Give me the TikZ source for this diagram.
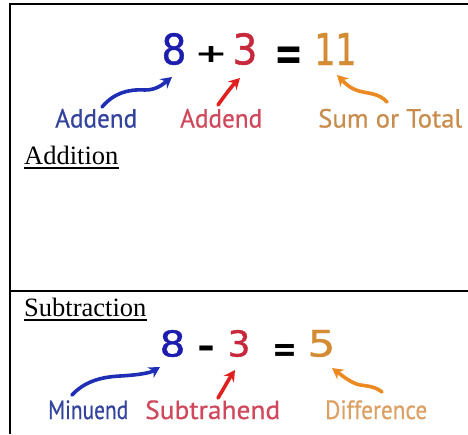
\documentclass[tikz,border=0pt]{standalone}
\usepackage{fontspec}
\usepackage{graphicx}
\setmainfont{Liberation Serif}
\newfontfamily\labfont{PT Sans}[FakeBold=0.6]
\newfontfamily\digfont{DejaVu Sans}[FakeBold=1]
\newfontfamily\opfont{DejaVu Sans Bold}
\usetikzlibrary{arrows.meta}
\definecolor{bdig}{HTML}{1C1CAE}
\definecolor{rdig}{HTML}{C8283C}
\definecolor{odig}{HTML}{D48C34}
\definecolor{barr}{HTML}{1F2FB5}
\definecolor{rarr}{HTML}{E0201E}
\definecolor{oarr}{HTML}{EC8A22}
\definecolor{blab}{HTML}{34449C}
\definecolor{rlab}{HTML}{D0485C}
\definecolor{olab}{HTML}{C98C4C}
\definecolor{olab2}{HTML}{DCA064}
\newcommand{\fitto}[3]{\resizebox*{#1}{#2}{#3}}
\tikzset{
  frame/.style={line width=2.4pt, line join=miter},
  heading/.style={inner sep=0pt, font=\fontsize{26.5}{30}\selectfont},
  uline/.style={line width=1.2pt},
  glyph/.style={inner sep=0pt},
  lab/.style={inner sep=0pt, anchor=base west, font=\labfont},
  arr/.style={line width=3.6pt, line cap=round, -{Stealth[length=11pt,width=12pt]}},
}
\begin{document}
\begin{tikzpicture}[x=1pt,y=-1pt]
\useasboundingbox (0,0) rectangle (468,434);
% frame
\draw[frame] (10,434) -- (10,4) -- (468,4);
\draw[frame] (10,291) -- (468,291);
% headings
\node[heading, anchor=base west] (addh) at (24,164) {Addition};
\draw[uline] ([yshift=-4pt]addh.base west) -- ([yshift=-4pt]addh.base east);
\node[heading, anchor=base west] (subh) at (24,316) {Subtraction};
\draw[uline] ([yshift=-4pt]subh.base west) -- ([yshift=-4pt]subh.base east);
% addition equation
\node[glyph, text=bdig] (a8) at (174,49) {\fitto{25pt}{32pt}{\digfont 8}};
\node[glyph] (aplus) at (211,54.5) {\fitto{33pt}{16pt}{\opfont +}};
\node[glyph, text=rdig] (a3) at (245,49) {\fitto{25pt}{32pt}{\digfont 3}};
\node[glyph] (aeq) at (289,58.7) {\fitto{29pt}{23.5pt}{\opfont =}};
\node[glyph, text=odig] (a11) at (335.5,49) {\fitto{42pt}{32pt}{\digfont 11}};
% addition labels
\node[lab, text=blab] (la1) at (55,127.5) {\fitto{82pt}{19pt}{Addend}};
\node[lab, text=rlab] (la2) at (180,127.5) {\fitto{82pt}{19pt}{Addend}};
\node[lab, text=olab] (la3) at (318,127.5) {\fitto{144pt}{19pt}{Sum or Total}};
% addition arrows
\coordinate (ta1) at (102,107);
\coordinate (ha1) at (172,77);
\coordinate (ta2) at (218,105);
\coordinate (ha2) at (240,78);
\coordinate (ta3) at (387,102);
\coordinate (ha3) at (337,75);
\draw[arr, barr] (ta1) .. controls (114,93) and (128,89) .. (145,90) .. controls (156,90) and (162,85) .. (ha1);
\draw[arr, rarr] (ta2) .. controls (225,95) and (232,86) .. (ha2);
\draw[arr, oarr] (ta3) .. controls (378,92) and (366,94) .. (356,90) .. controls (348,87) and (343,81) .. (ha3);
% subtraction equation
\node[glyph, text=bdig] (s8) at (172.5,343.5) {\fitto{26pt}{27pt}{\digfont 8}};
\node[glyph] (sminus) at (206,352) {\fitto{18pt}{12.5pt}{\opfont -}};
\node[glyph, text=rdig] (s3) at (239,343.5) {\fitto{23pt}{27pt}{\digfont 3}};
\node[glyph] (seq) at (285,352.5) {\fitto{25pt}{17pt}{\opfont =}};
\node[glyph, text=odig] (s5) at (321.5,343.5) {\fitto{28pt}{27pt}{\digfont 5}};
% subtraction labels
\node[lab, text=blab] (ls1) at (48,419) {\fitto{80pt}{19pt}{Minuend}};
\node[lab, text=rlab] (ls2) at (145,419) {\fitto{135pt}{19pt}{Subtrahend}};
\node[lab, text=olab2] (ls3) at (325,419) {\fitto{102pt}{19pt}{Difference}};
% subtraction arrows
\coordinate (ts1) at (72,395);
\coordinate (hs1) at (160,367);
\coordinate (ts2) at (218,398);
\coordinate (hs2) at (235,370);
\coordinate (ts3) at (382,392);
\coordinate (hs3) at (332,368);
\draw[arr, barr] (ts1) .. controls (84,382) and (100,377) .. (120,376) .. controls (138,375) and (150,373) .. (hs1);
\draw[arr, rarr] (ts2) .. controls (224,388) and (229,379) .. (hs2);
\draw[arr, oarr] (ts3) .. controls (372,384) and (362,387) .. (354,383) .. controls (346,379) and (340,374) .. (hs3);
\end{tikzpicture}
\end{document}
